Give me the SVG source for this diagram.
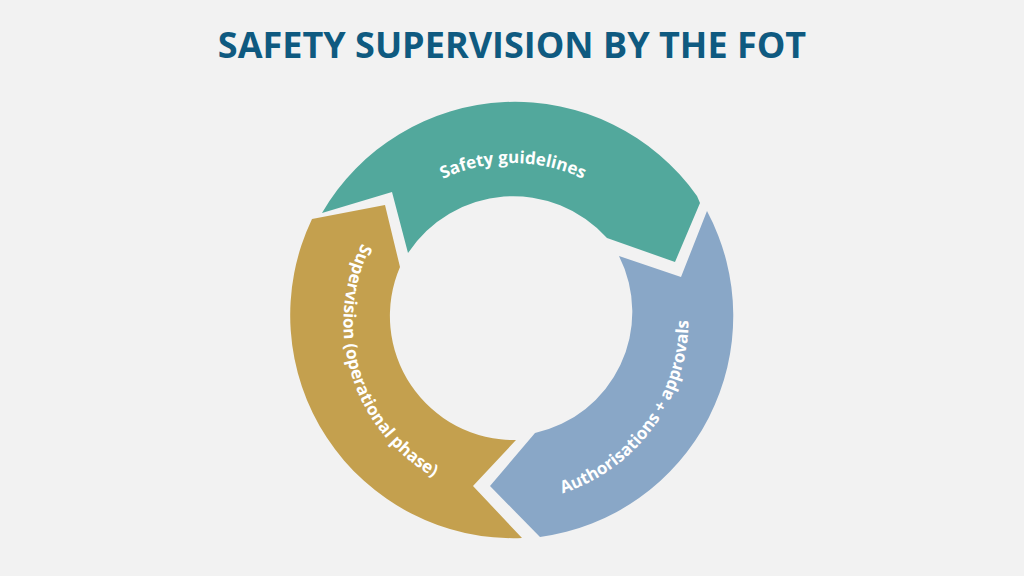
<svg xmlns="http://www.w3.org/2000/svg" xmlns:xlink="http://www.w3.org/1999/xlink" width="1024" height="576" viewBox="0 0 1024 576">
<style>
.lbl{font-family:"Open Sans","Liberation Sans",sans-serif;font-weight:bold;font-size:17px;fill:#fff}
.title{font-family:"Open Sans","Liberation Sans",sans-serif;font-weight:bold;font-size:36px;fill:#0f5a80}
</style>
<defs>
<path id="pg" d="M351,325 A162 162 0 0 1 675,325"/>
<path id="pb" d="M406,472 A182 182 0 0 0 620,178"/>
<path id="pd" d="M461,155 A178 178 0 0 0 565,495"/>
</defs>
<rect width="1024" height="576" fill="#f2f2f2"/>
<text class="title" x="512" y="58" text-anchor="middle">SAFETY SUPERVISION BY THE FOT</text>
<g id="guidelines">
<path d="M322,213 A223 223 0 0 1 697,196 L700,203 L675,262 L607,238 A126 126 0 0 0 408,253 L392,192 Z" fill="#52a89c"/>
<text class="lbl" text-anchor="middle"><textPath xlink:href="#pg" href="#pg" startOffset="50%">Safety guidelines</textPath></text>
</g>
<g id="authorisations">
<path d="M707,211 A223 223 0 0 1 540,537 L490,486 L535,433 A124 124 0 0 0 619,256 L681,277 Z" fill="#89a7c7"/>
<text class="lbl" text-anchor="middle"><textPath xlink:href="#pb" href="#pb" startOffset="50%">Authorisations + approvals</textPath></text>
</g>
<g id="supervision">
<path d="M522,538 L473,486 L516,440 A124 124 0 0 1 400,267 L385,205 L312,219 A223 223 0 0 0 522,538 Z" fill="#c4a04e"/>
<text class="lbl" text-anchor="middle"><textPath xlink:href="#pd" href="#pd" startOffset="50%">Supervision (operational phase)</textPath></text>
</g>
<g id="connectors"/>
</svg>
